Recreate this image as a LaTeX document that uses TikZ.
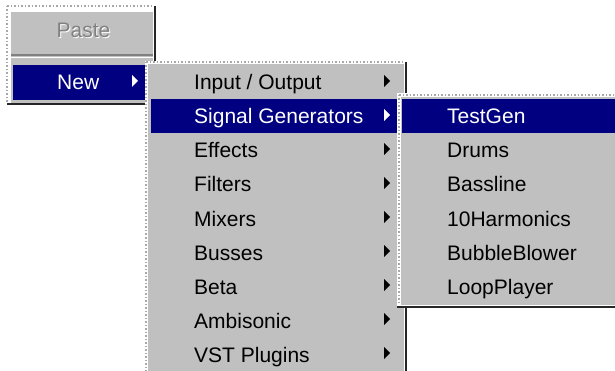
\documentclass[tikz,border=0pt]{standalone}
\usepackage{fontspec}
\setmainfont{Liberation Sans}
\definecolor{wingray}{HTML}{C0C0C0}
\definecolor{winnavy}{HTML}{000080}
\definecolor{windark}{HTML}{808080}
\definecolor{dotgray}{HTML}{A8A8A8}
\tikzset{
  item/.style={anchor=base west, inner sep=0pt, font=\fontsize{21}{21}\selectfont, text=black},
  hitem/.style={item, text=white},
  arrowtip/.style={fill=black},
  harrowtip/.style={fill=white},
  dots/.style={draw=dotgray, line width=1.5pt, dash pattern=on 1.5pt off 2pt},
  darkedge/.style={draw=black!85, line width=2pt},
  panel/.style={fill=wingray},
  hilite/.style={fill=winnavy},
}
\begin{document}
\begin{tikzpicture}[x=1pt,y=-1pt]
\useasboundingbox (0,0) rectangle (615,371);
\fill[white] (0,0) rectangle (615,371);
% ---------- menu 1
\fill[panel] (11,12) rectangle (153,103);
\draw[dots] (7,6) -- (154,6);
\draw[dots] (7,6) -- (7,103);
\draw[darkedge] (155,6) -- (155,104.5) -- (7,104.5);
\draw[windark, line width=1.2pt] (11,55) -- (153,55);
\draw[white, line width=1.2pt] (11,57.5) -- (153,57.5);
\fill[hilite] (13,65) rectangle (152,100);
\node[item, anchor=base, text=white] at (84.5,39) {Paste};
\node[item, anchor=base, text=windark] (paste) at (83.5,38) {Paste};
\node[hitem] (new) at (57,90) {New};
\fill[harrowtip] (132,75) -- (132,87) -- (138,81) -- cycle;
% ---------- menu 2
\fill[white] (145,61) rectangle (408,372);
\fill[panel] (148,64) rectangle (404,372);
\draw[dots] (146,62) -- (404,62);
\draw[dots] (146,62) -- (146,372);
\draw[darkedge] (406,62) -- (406,372);
\fill[hilite] (151,99.5) rectangle (397,133);
\node[item]  (io)     at (194,90)  {Input / Output};
\node[hitem] (siggen) at (194,124) {Signal Generators};
\node[item]  (fx)     at (194,158) {Effects};
\node[item]  (filt)   at (194,192) {Filters};
\node[item]  (mix)    at (194,226) {Mixers};
\node[item]  (bus)    at (194,260) {Busses};
\node[item]  (beta)   at (194,294) {Beta};
\node[item]  (amb)    at (194,328) {Ambisonic};
\node[item]  (vst)    at (194,362) {VST Plugins};
\foreach \c in {81,149,183,217,251,285,319,353}
  \fill[arrowtip] (384,\c-6) -- (384,\c+6) -- (390,\c) -- cycle;
\fill[harrowtip] (384,109) -- (384,121) -- (390,115) -- cycle;
% ---------- menu 3
\fill[white] (397,93) rectangle (615,306);
\fill[panel] (401,97) rectangle (615,305);
\draw[dots] (399,95) -- (615,95);
\draw[dots] (399,95) -- (399,305);
\draw[darkedge] (397,307) -- (615,307);
\fill[hilite] (402,99.5) rectangle (615,133);
\node[hitem] (testgen) at (447,124) {TestGen};
\node[item]  (drums)   at (447,158) {Drums};
\node[item]  (bass)    at (447,192) {Bassline};
\node[item]  (harm)    at (447,226) {10Harmonics};
\node[item]  (bubble)  at (447,260) {BubbleBlower};
\node[item]  (loop)    at (447,294) {LoopPlayer};
\end{tikzpicture}
\end{document}
